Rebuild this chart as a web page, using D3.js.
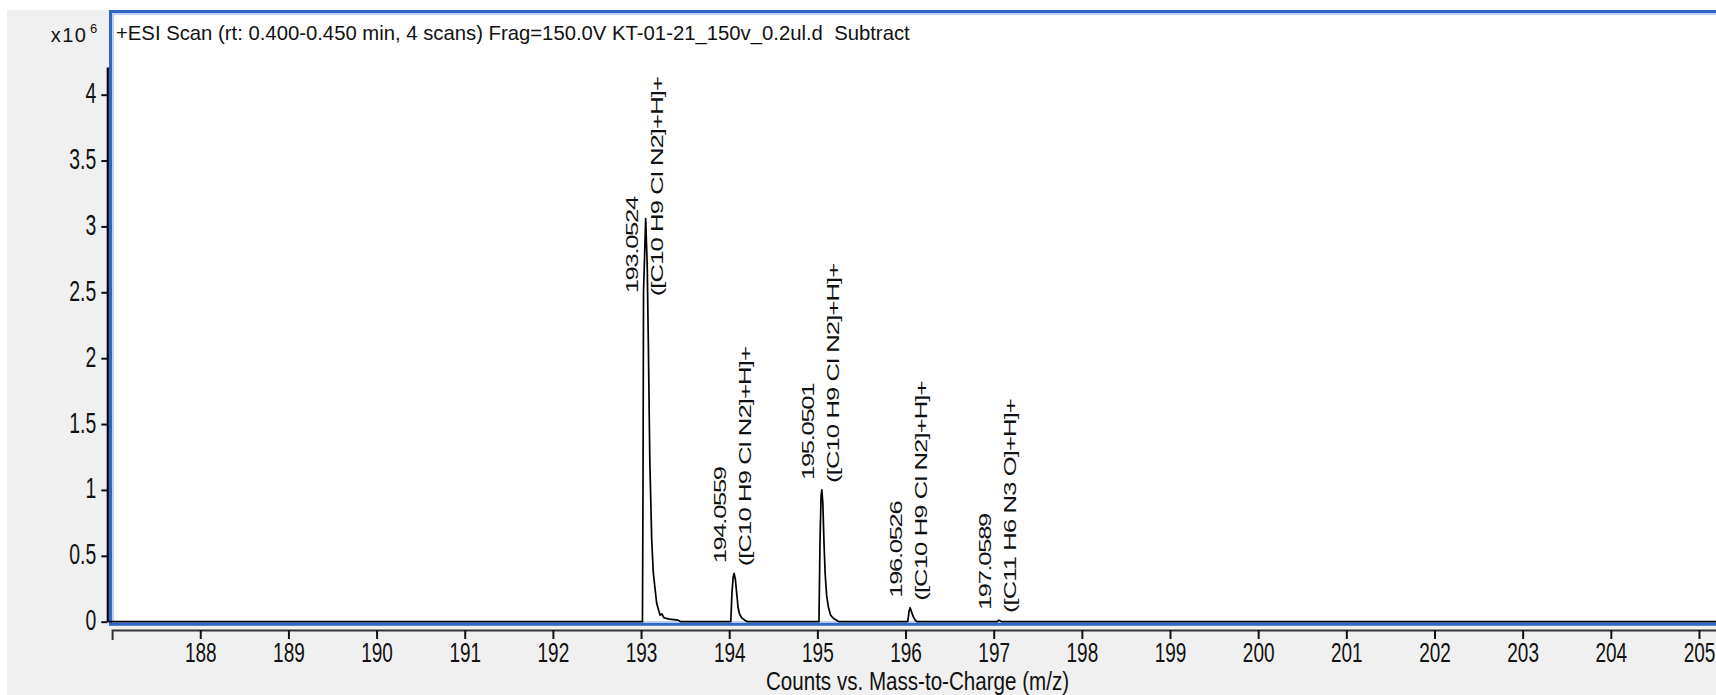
<!DOCTYPE html>
<html>
<head>
<meta charset="utf-8">
<script src="https://cdn.jsdelivr.net/npm/d3@7"></script>
<style>
  html, body { margin: 0; padding: 0; background: #fff; }
  svg { display: block; }
  text { font-family: "Liberation Sans", Arial, sans-serif; fill: #111; white-space: pre; }
</style>
</head>
<body>
<svg id="chart" width="1716" height="695"></svg>
<script>
// profile spectrum: m/z and counts (x10^6)
const mzPoints = [
  186.96, 193.000, 193.016, 193.022, 193.028, 193.0524, 193.07, 193.082, 193.10, 193.121, 193.139, 193.177, 193.215, 193.234, 193.26, 193.32, 193.42, 193.45,
  194.018, 194.031, 194.045, 194.0559, 194.07, 194.085, 194.10, 194.114, 194.14, 194.18, 194.21,
  195.018, 195.03, 195.042, 195.0501, 195.062, 195.075, 195.088, 195.105, 195.124, 195.15, 195.181, 195.23, 195.25,
  196.025, 196.04, 196.0526, 196.065, 196.088, 196.11, 196.13,
  197.04, 197.0589, 197.09,
  205.2
];
const counts = [
  0, 0, 0, 1.0, 2.5, 3.06, 2.7, 2.14, 1.2, 0.62, 0.37, 0.14, 0.05, 0.06, 0.03, 0.02, 0.012, 0,
  0, 0.22, 0.34, 0.367, 0.32, 0.216, 0.11, 0.064, 0.03, 0.01, 0,
  0, 0.62, 0.95, 1.0, 0.9, 0.6, 0.367, 0.2, 0.114, 0.05, 0.026, 0.005, 0,
  0, 0.08, 0.106, 0.08, 0.038, 0.012, 0,
  0, 0.012, 0,
  0
];

// labelled peaks
const peakMz = [193.0524, 194.0559, 195.0501, 196.0526, 197.0589];
const peakHeight = [3.06, 0.367, 1.0, 0.106, 0.012];
const peakFormula = [
  "([C10 H9 Cl N2]+H]+",
  "([C10 H9 Cl N2]+H]+",
  "([C10 H9 Cl N2]+H]+",
  "([C10 H9 Cl N2]+H]+",
  "([C11 H6 N3 O]+H]+"
];

const xTicks = [188, 189, 190, 191, 192, 193, 194, 195, 196, 197, 198, 199, 200, 201, 202, 203, 204, 205];
const yTicks = [0, 0.5, 1, 1.5, 2, 2.5, 3, 3.5, 4];

const titleText = "+ESI Scan (rt: 0.400-0.450 min, 4 scans) Frag=150.0V KT-01-21_150v_0.2ul.d  Subtract";
const xTitle = "Counts vs. Mass-to-Charge (m/z)";

const svg = d3.select("#chart");
const blue = "#2f67c9";
const stretchK = 1.49; // the screenshot is stretched vertically

// scales
const x = d3.scaleLinear().domain([187, 205.2]).range([112.1, 1716.6]);
const y = d3.scaleLinear().domain([0, 4.21]).range([621.7, 67]);

// grey window background
svg.append("rect")
    .attr("x", 7).attr("y", 10)
    .attr("width", 1716).attr("height", 700)
    .attr("fill", "#f0f0f0");

// plot area with blue frame
svg.append("rect")
    .attr("x", 110.5).attr("y", 11.5)
    .attr("width", 1700).attr("height", 612.8)
    .attr("fill", "#fff")
    .attr("stroke", blue)
    .attr("stroke-width", 3);
svg.append("rect")
    .attr("x", 113).attr("y", 14)
    .attr("width", 1700).attr("height", 608)
    .attr("fill", "none")
    .attr("stroke", "#a9c1ec")
    .attr("stroke-width", 1.5);

// title and multiplier
svg.append("text")
    .attr("x", 116).attr("y", 40)
    .attr("font-size", 20.3)
    .text(titleText);

svg.append("text")
    .attr("x", 87.5).attr("y", 41.5)
    .attr("text-anchor", "end")
    .attr("font-size", 20)
    .attr("letter-spacing", 1.5)
    .text("x10");
svg.append("text")
    .attr("x", 90).attr("y", 33)
    .attr("font-size", 13)
    .text("6");

// spectrum trace
const line = d3.line()
    .x((d, i) => x(mzPoints[i]))
    .y(d => y(d));

svg.append("path")
    .datum(counts)
    .attr("d", line)
    .attr("fill", "none")
    .attr("stroke", "#000")
    .attr("stroke-width", 1.7)
    .attr("stroke-linejoin", "round");

// x axis
const xAxis = svg.append("g")
    .attr("transform", "translate(0,630)")
    .call(d3.axisBottom(x).tickValues(xTicks).tickSizeInner(9).tickSizeOuter(10).tickFormat(d3.format("d")));
xAxis.select(".domain").attr("stroke", "#333").attr("stroke-width", 2);
xAxis.selectAll(".tick line").attr("stroke", "#111").attr("stroke-width", 2);
xAxis.selectAll(".tick text")
    .attr("y", null).attr("dy", null)
    .attr("font-size", 19)
    .attr("font-family", null)
    .attr("fill", "#111")
    .attr("transform", `translate(0,31.7) scale(1,${stretchK})`);

// y axis
const yAxis = svg.append("g")
    .attr("transform", "translate(107.3,0)")
    .call(d3.axisLeft(y).tickValues(yTicks).tickSizeInner(6).tickSizeOuter(0).tickFormat(d3.format("")));
yAxis.select(".domain").attr("stroke", "#000").attr("stroke-width", 2.2);
yAxis.selectAll(".tick line").attr("stroke", "#111").attr("stroke-width", 2);
yAxis.selectAll(".tick text")
    .attr("x", null).attr("dy", null)
    .attr("font-size", 19.4)
    .attr("font-family", null)
    .attr("fill", "#111")
    .attr("transform", `translate(-11,8) scale(1,${stretchK})`);

// x axis title
svg.append("text")
    .attr("transform", `translate(917.5,690) scale(1,1.24)`)
    .attr("text-anchor", "middle")
    .attr("font-size", 20.6)
    .text(xTitle);

// peak labels, rotated, kept below the label ceiling
const labelTop = 77;
const fmt = d3.format(".4f");
peakMz.forEach((m, i) => {
    const ax = x(m);
    const ay = y(peakHeight[i]);

    const formula = svg.append("text")
        .attr("font-size", 17.2)
        .attr("letter-spacing", -0.6)
        .text(peakFormula[i]);
    const len = formula.node().getComputedTextLength() * stretchK;
    let bottom = ay - 7;
    if (bottom - len < labelTop) bottom = labelTop + len;

    formula.attr("transform", `translate(${ax + 17},${bottom}) scale(1,${stretchK}) rotate(-90)`);

    svg.append("text")
        .attr("font-size", 17.2)
        .attr("letter-spacing", -0.9)
        .attr("transform", `translate(${ax - 8},${bottom - 3}) scale(1,${stretchK}) rotate(-90)`)
        .text(fmt(m));
});
</script>
</body>
</html>
